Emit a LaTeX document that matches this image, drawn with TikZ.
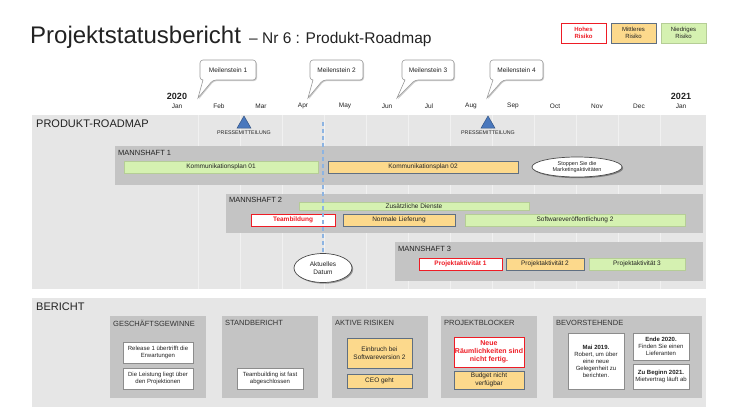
\documentclass[tikz,border=0pt]{standalone}
\usepackage{fontspec}
\setmainfont{Liberation Sans}
\usetikzlibrary{shapes.geometric,shadows,calc}
\definecolor{bgl}{HTML}{E6E6E6}
\definecolor{band}{HTML}{C4C4C4}
\definecolor{grn}{HTML}{D5F1B1}
\definecolor{org}{HTML}{FCD98C}
\definecolor{orgb}{HTML}{5F6F82}
\definecolor{hred}{HTML}{EE1C25}
\definecolor{txt}{HTML}{222222}
\definecolor{wbd}{HTML}{8C8C8C}
\definecolor{dblue}{HTML}{8DB4E2}
\definecolor{tri}{HTML}{4A78BD}
\newcommand\fsz[2]{\fontsize{#1}{#2}\selectfont}
\newcommand\bx[7]{\node[#2,minimum width={#5-#3},minimum height={#6-#4},inner sep=0pt] (#1) at ({(#3+#5)/2},{(#4+#6)/2}) {#7};}
\newcommand\mstone[8]{%
  \draw[callout] ({#2+3},#5) [rounded corners=3pt] -- (#2,#5) -- (#2,#3) -- (#4,#3) -- (#4,#5) -- ({#2+13},#5) [sharp corners] -- (#6,#7) -- cycle;
  \node[mstext] (#1) at ({(#2+#4)/2},{(#3+#5)/2}) {#8};
  \coordinate (#1tip) at (#6,#7);}
\tikzset{
  shd/.style={drop shadow={shadow xshift=1.2pt,shadow yshift=-1.2pt,opacity=0.35,fill=black}},
  lbl/.style={inner sep=0pt,text=txt},
  gbar/.style={shd,fill=grn,draw=grn!85!black,line width=0.3pt,align=center,text=txt,font=\fsz{6.5}{7.5}},
  obar/.style={shd,fill=org,draw=orgb,line width=0.8pt,align=center,text=txt,font=\fsz{6.5}{7.5}},
  rbar/.style={shd,fill=white,draw=hred,line width=1pt,align=center,text=hred,font=\fsz{6.5}{7.5}\bfseries},
  wbox/.style={shd,fill=white,draw=wbd,line width=0.8pt,align=center,text=txt,font=\fsz{6}{7}},
  ell/.style={ellipse,shd,fill=white,draw=black!70,line width=0.7pt,inner sep=0pt,align=center,text=txt},
  callout/.style={fill=white,draw=black!40,line width=0.6pt,drop shadow={shadow xshift=1pt,shadow yshift=-1pt,opacity=0.2,fill=black}},
  mstext/.style={inner sep=0pt,text=txt,font=\fsz{6.5}{8}},
  month/.style={inner sep=0pt,text=txt,font=\fsz{6.5}{8}},
  team/.style={inner sep=0pt,anchor=west,text=txt,font=\fsz{7.5}{9}},
  panel/.style={inner sep=0pt,anchor=west,text=black!80,font=\fsz{7.5}{9}},
  sect/.style={inner sep=0pt,anchor=west,text=txt,font=\fsz{11}{13}},
  press/.style={regular polygon,regular polygon sides=3,minimum size=16,inner sep=0pt,fill=tri,draw=tri!70!black,line width=0.5pt},
  presslbl/.style={inner sep=0pt,text=txt,font=\fsz{5.3}{6}},
  nowline/.style={draw=dblue,line width=1.4pt,dash pattern=on 4pt off 3pt}
}
\begin{document}
\begin{tikzpicture}[x=1pt,y=-1pt]
\useasboundingbox (0,0) rectangle (740,416);
\fill[white] (0,0) rectangle (740,416);
% title
\node[lbl,anchor=base west,font=\fsz{24}{28}] (title) at (30,43) {Projektstatusbericht};
\node[lbl,anchor=base west,font=\fsz{15.5}{18}] (sub) at (249,43) {– Nr 6 : Produkt-Roadmap};
% legend
\bx{lh}{rbar,font=\fsz{6}{7}\bfseries}{561}{23}{606}{43}{Hohes\\Risiko}
\bx{lm}{obar,font=\fsz{6}{7}}{611}{23}{656}{43}{Mittleres\\Risiko}
\bx{ln}{gbar,font=\fsz{6}{7}}{661}{23}{706}{43}{Niedriges\\Risiko}
% milestones
\mstone{m1}{200}{60}{256}{80}{198}{98}{Meilenstein 1}
\mstone{m2}{310}{60}{363}{80}{308}{98}{Meilenstein 2}
\mstone{m3}{402}{60}{454}{80}{397}{98}{Meilenstein 3}
\mstone{m4}{490}{60}{543}{80}{487}{98}{Meilenstein 4}
% years and months
\node[lbl,font=\fsz{9}{10}\bfseries] (y20) at (177,96) {2020};
\node[lbl,font=\fsz{9}{10}\bfseries] (y21) at (681,96) {2021};
\foreach \m [count=\i from 0] in {Jan,Feb,Mar,Apr,May,Jun,Jul,Aug,Sep,Oct,Nov,Dec,Jan}
  \node[month] (mon\i) at ({177+42*\i},106) {\m};
% roadmap background
\fill[bgl] (32,115) rectangle (706,289);
\foreach \k in {0,...,11}
  \draw[white!45!bgl,line width=0.6pt] ({198+42*\k},115) -- ({198+42*\k},289);
\node[sect] (rm) at (36,124) {PRODUKT-ROADMAP};
\node[press] (pm1) at (244,124) {};
\node[presslbl] (pm1l) at (244,133) {PRESSEMITTEILUNG};
\node[press] (pm2) at (488,124) {};
\node[presslbl] (pm2l) at (488,133) {PRESSEMITTEILUNG};
% team 1
\fill[band] (115,146) rectangle (703,185);
\node[team] (t1) at (118,153) {MANNSHAFT 1};
\bx{k01}{gbar}{124}{161}{318}{173}{Kommunikationsplan 01}
\bx{k02}{obar}{328}{161}{518}{173}{Kommunikationsplan 02}
\node[ell,minimum width=90,minimum height=20,font=\fsz{5.5}{6.3}] (stop) at (577,167) {Stoppen Sie die\\Marketingaktivitäten};
% team 2
\fill[band] (226,194) rectangle (703,233);
\node[team] (t2) at (229,200) {MANNSHAFT 2};
\bx{zus}{gbar}{299}{202}{529}{210}{Zusätzliche Dienste}
\bx{teamb}{rbar}{251}{214}{335}{226}{Teambildung}
\bx{norm}{obar}{343}{214}{455}{226}{Normale Lieferung}
\bx{soft}{gbar}{465}{214}{685}{226}{Softwareveröffentlichung 2}
% team 3
\fill[band] (395,242) rectangle (703,281);
\node[team] (t3) at (398,249) {MANNSHAFT 3};
\bx{pa1}{rbar}{419}{258}{502}{270}{Projektaktivität 1}
\bx{pa2}{obar}{506}{258}{584}{270}{Projektaktivität 2}
\bx{pa3}{gbar}{589}{258}{685}{270}{Projektaktivität 3}
% current date
\node[ell,minimum width=58,minimum height=29,font=\fsz{6.5}{7.8}] (curdate) at (323,268) {Aktuelles\\Datum};
\coordinate (curtop) at (323,122);
\draw[nowline] (curtop) -- (curdate.north);
% report section
\fill[bgl] (32,298) rectangle (706,407);
\node[sect] (ber) at (36,307) {BERICHT};
\fill[band] (110,316) rectangle (206,398);
\fill[band] (222,316) rectangle (318,398);
\fill[band] (332,316) rectangle (428,398);
\fill[band] (441,316) rectangle (537,398);
\fill[band] (553,316) rectangle (702,398);
\node[panel] (p1) at (113,323) {GESCHÄFTSGEWINNE};
\node[panel] (p2) at (225,323) {STANDBERICHT};
\node[panel] (p3) at (335,323) {AKTIVE RISIKEN};
\node[panel] (p4) at (444,323) {PROJEKTBLOCKER};
\node[panel] (p5) at (556,323) {BEVORSTEHENDE};
\bx{rel}{wbox}{123}{342}{193}{363}{Release 1 übertrifft die\\Erwartungen}
\bx{leist}{wbox}{123}{368}{193}{389}{Die Leistung liegt über\\den Projektionen}
\bx{teamfast}{wbox}{237}{368}{303}{389}{Teambuilding ist fast\\abgeschlossen}
\bx{einb}{obar}{347}{338}{412}{368}{Einbruch bei\\Softwareversion 2}
\bx{ceo}{obar}{347}{374}{412}{388}{CEO geht}
\bx{neue}{rbar,font=\fsz{7}{8.3}\bfseries}{454}{337}{524}{367}{Neue\\Räumlichkeiten sind\\nicht fertig.}
\bx{budget}{obar}{454}{371}{524}{389}{Budget nicht\\verfügbar}
\bx{mai}{wbox}{568}{333}{624}{389}{\textbf{Mai 2019.}\\Robert, um über\\eine neue\\Gelegenheit zu\\berichten.}
\bx{ende}{wbox}{633}{333}{689}{360}{\textbf{Ende 2020.}\\Finden Sie einen\\Lieferanten}
\bx{zub}{wbox}{633}{364}{689}{389}{\textbf{Zu Beginn 2021.}\\Mietvertrag läuft ab}
\end{tikzpicture}
\end{document}
